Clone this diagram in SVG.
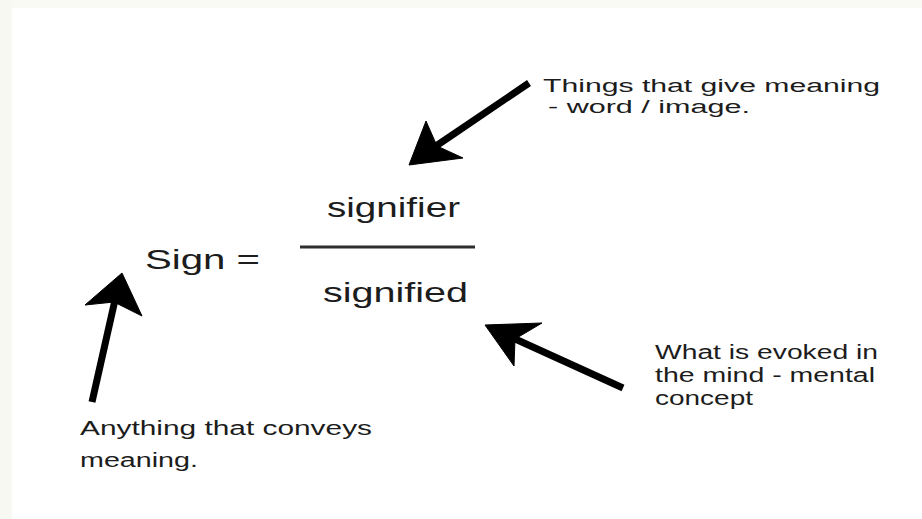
<svg xmlns="http://www.w3.org/2000/svg" width="922" height="519" viewBox="0 0 922 519">
<style>
  .t { font-family: "Liberation Sans", Arial, sans-serif; fill: #1c1c1c; }
  .s { font-size: 20px; }
  .n { font-size: 18px; }
  .b { font-size: 27px; }
  .shaft { stroke: #000; stroke-width: 7; stroke-linecap: butt; fill: none; }
  .head { fill: #000; stroke: #000; stroke-width: 1; stroke-linejoin: miter; }
</style>
<rect x="0" y="0" width="922" height="519" fill="#ffffff"/>
<rect x="0" y="0" width="922" height="8" fill="#f9faf4"/>
<rect x="0" y="0" width="12" height="519" fill="#f7f8f1"/>

<g id="sign">
  <text class="t b" x="145" y="269" textLength="115" lengthAdjust="spacingAndGlyphs">Sign =</text>
</g>
<g id="fraction">
  <text class="t b" x="327" y="217" textLength="133" lengthAdjust="spacingAndGlyphs">signifier</text>
  <line x1="300" y1="247" x2="475" y2="247" stroke="#2e2e2e" stroke-width="3"/>
  <text class="t b" x="323" y="302" textLength="145" lengthAdjust="spacingAndGlyphs">signified</text>
</g>
<g id="note-signifier">
  <text class="t n" x="543" y="92" textLength="337" lengthAdjust="spacingAndGlyphs">Things that give meaning</text>
  <text class="t n" x="548" y="113" textLength="202" lengthAdjust="spacingAndGlyphs">- word / image.</text>
</g>
<g id="note-signified">
  <text class="t s" x="655" y="359" textLength="223" lengthAdjust="spacingAndGlyphs">What is evoked in</text>
  <text class="t s" x="655" y="382" textLength="220" lengthAdjust="spacingAndGlyphs">the mind - mental</text>
  <text class="t s" x="655" y="405" textLength="98" lengthAdjust="spacingAndGlyphs">concept</text>
</g>
<g id="note-sign">
  <text class="t s" x="80" y="435" textLength="292" lengthAdjust="spacingAndGlyphs">Anything that conveys</text>
  <text class="t s" x="80" y="467" textLength="118" lengthAdjust="spacingAndGlyphs">meaning.</text>
</g>

<g id="connectors">
  <line class="shaft" x1="529" y1="83" x2="436" y2="146"/>
  <polygon class="head" points="409,165 426,121 437,146 463,158"/>
  <line class="shaft" x1="92" y1="402" x2="115" y2="300"/>
  <polygon class="head" points="122,273 142,316 114,302 85,305"/>
  <line class="shaft" x1="623" y1="388" x2="513" y2="338"/>
  <polygon class="head" points="485,325 542,323 515,339 514,366"/>
</g>
</svg>
